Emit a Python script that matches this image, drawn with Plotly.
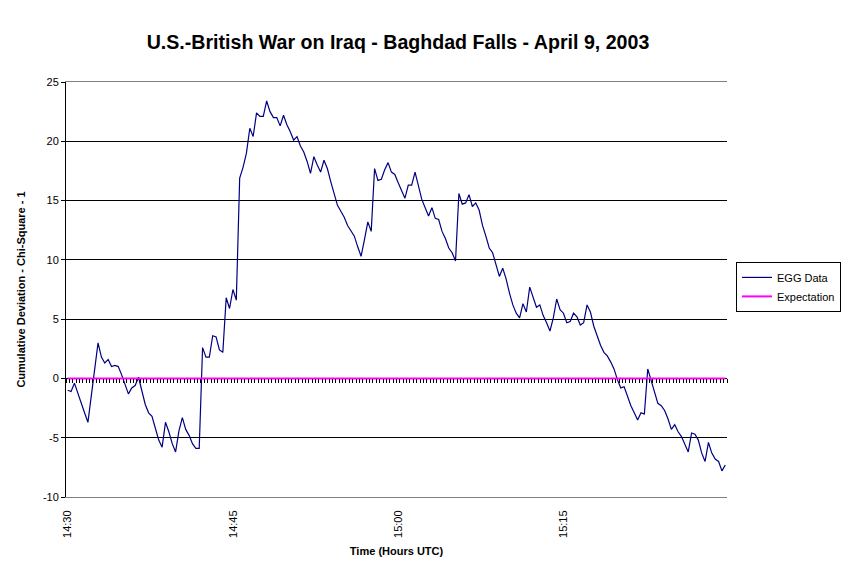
import plotly.graph_objects as go

# ---- data ----
TITLE = "U.S.-British War on Iraq - Baghdad Falls - April 9, 2003"
X_TITLE = "Time (Hours UTC)"
Y_TITLE = "Cumulative Deviation - Chi-Square - 1"
tick_labels = ["14:30", "14:45", "15:00", "15:15"]
label_every = 49          # categories between labelled ticks
y_ticks = [-10, -5, 0, 5, 10, 15, 20, 25]

egg_data = [
    -1.0, -1.1, -0.4, -1.3, -2.1, -2.9, -3.7, -1.5, 0.5, 3.0,
    1.8, 1.3, 1.6, 1.0, 1.1, 1.0, 0.3, -0.6, -1.3, -0.8,
    -0.6, 0.1, -1.0, -2.2, -2.9, -3.2, -4.2, -5.2, -5.8, -3.7,
    -4.5, -5.5, -6.2, -4.4, -3.3, -4.3, -4.8, -5.5, -5.9, -5.9,
    2.6, 1.8, 1.8, 3.6, 3.5, 2.4, 2.2, 6.8, 5.9, 7.5,
    6.6, 16.9, 17.8, 19.0, 21.1, 20.4, 22.4, 22.1, 22.1, 23.4,
    22.5, 22.0, 22.0, 21.3, 22.2, 21.4, 20.8, 20.1, 20.4, 19.6,
    19.1, 18.3, 17.3, 18.7, 18.0, 17.4, 18.4, 17.7, 16.6, 15.6,
    14.6, 14.1, 13.6, 12.9, 12.5, 12.0, 11.1, 10.3, 11.7, 13.2,
    12.4, 17.7, 16.7, 16.8, 17.6, 18.2, 17.4, 17.2, 16.5, 15.8,
    15.2, 16.3, 16.3, 17.4, 16.2, 15.1, 14.4, 13.7, 14.4, 13.5,
    13.4, 12.4, 11.8, 11.0, 10.6, 9.9, 15.6, 14.7, 14.8, 15.5,
    14.5, 14.8, 14.2, 12.9, 12.0, 11.0, 10.6, 9.6, 8.6, 9.3,
    8.4, 7.2, 6.2, 5.5, 5.1, 6.3, 5.6, 7.7, 6.8, 6.0,
    6.2, 5.3, 4.7, 4.0, 5.1, 6.7, 5.8, 5.5, 4.7, 4.8,
    5.5, 5.2, 4.5, 4.7, 6.2, 5.6, 4.4, 3.5, 2.8, 2.2,
    1.9, 1.4, 0.8, -0.1, -0.8, -0.7, -1.6, -2.3, -2.9, -3.5,
    -2.9, -3.0, 0.8, -0.1, -1.1, -2.1, -2.3, -2.7, -3.4, -4.3,
    -3.9, -4.5, -4.9, -5.5, -6.2, -4.6, -4.7, -5.2, -6.3, -7.0,
    -5.4, -6.3, -6.8, -7.0, -7.8, -7.3,
]
expectation = [0.0] * len(egg_data)

n = len(egg_data)
categories = list(range(n))
tickvals = [i * label_every for i in range(len(tick_labels))]

FONT = "Liberation Sans, Arial, sans-serif"
Y_MIN, Y_MAX = y_ticks[0], y_ticks[-1]

fig = go.Figure()
fig.add_trace(go.Scatter(
    x=categories, y=egg_data, mode="lines", name="EGG Data",
    line=dict(color="#000080", width=1.2), xaxis="x", yaxis="y",
))
fig.add_trace(go.Scatter(
    x=categories, y=expectation, mode="lines", name="Expectation",
    line=dict(color="#FF00FF", width=2), xaxis="x2", yaxis="y",
))

fig.update_layout(
    width=843, height=575,
    margin=dict(l=66, r=116, t=82, b=78, autoexpand=False),
    paper_bgcolor="white", plot_bgcolor="white",
    font=dict(family=FONT, size=11, color="black"),
    title=dict(text="<b>%s</b>" % TITLE, x=398 / 843, xanchor="center",
               y=1 - 42 / 575, yanchor="middle", xref="container", yref="container",
               font=dict(size=19.6, family=FONT, color="black")),
    showlegend=True,
    legend=dict(x=1.0136, y=0.5665, xanchor="left", yanchor="top",
                bordercolor="black", borderwidth=1, bgcolor="white",
                font=dict(size=11, family=FONT), itemwidth=30,
                tracegroupgap=0),
    xaxis=dict(
        range=[-0.5, n - 0.5], tickmode="array", tickvals=tickvals, ticktext=tick_labels,
        tickangle=-90, ticks="", showgrid=False, zeroline=False, automargin=False,
        showline=True, linecolor="#808080", linewidth=1, mirror=True,
        tickfont=dict(size=11), ticklabelstandoff=8,
        title=dict(text="<b>%s</b>" % X_TITLE, font=dict(size=11), standoff=10),
    ),
    xaxis2=dict(
        overlaying="x", matches="x", anchor="free",
        position=(0 - Y_MIN) / (Y_MAX - Y_MIN),
        ticks="outside", ticklen=4, tickcolor="black", tickwidth=1,
        tickmode="linear", tick0=-0.5, dtick=1,
        showticklabels=False, showgrid=False, showline=False, zeroline=False,
    ),
    yaxis=dict(
        range=[Y_MIN, Y_MAX], tickmode="array", tickvals=y_ticks,
        ticktext=[str(v) for v in y_ticks], automargin=False,
        showgrid=True, gridcolor="black", gridwidth=1, zeroline=False,
        showline=True, linecolor="black", linewidth=1,
        ticks="outside", ticklen=4, tickcolor="black",
        tickfont=dict(size=11),
        title=dict(text="<b>%s</b>" % Y_TITLE, font=dict(size=11), standoff=15),
    ),
    yaxis2=dict(
        overlaying="y", matches="y", side="right", showline=True,
        linecolor="#808080", linewidth=1, showticklabels=False, ticks="",
        showgrid=False, zeroline=False,
    ),
)

fig.write_html("out.html", config={"displayModeBar": False},
               post_script="document.body.style.margin='0';")
